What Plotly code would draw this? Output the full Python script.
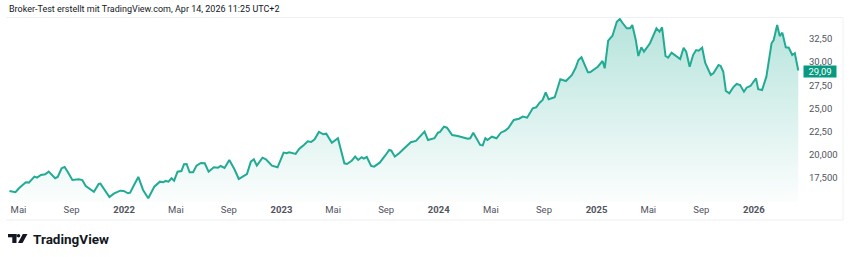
import plotly.graph_objects as go

# ---- data ----
dates = [
    "2021-04-10", "2021-04-24", "2021-05-02", "2021-05-18", "2021-05-25", "2021-06-07", "2021-06-13",
    "2021-06-22", "2021-07-02", "2021-07-10", "2021-07-25", "2021-07-31", "2021-08-09", "2021-08-16",
    "2021-08-23", "2021-09-03", "2021-09-18", "2021-09-26", "2021-10-04", "2021-10-15", "2021-10-23",
    "2021-11-03", "2021-11-07", "2021-11-28", "2021-12-08", "2021-12-23", "2021-12-31", "2022-01-10",
    "2022-01-15", "2022-01-25", "2022-02-03", "2022-02-14", "2022-02-26", "2022-03-12", "2022-03-25",
    "2022-04-02", "2022-04-07", "2022-04-14", "2022-04-21", "2022-04-27", "2022-05-05", "2022-05-14",
    "2022-05-20", "2022-05-26", "2022-06-02", "2022-06-10", "2022-06-18", "2022-06-28", "2022-07-07",
    "2022-07-16", "2022-07-28", "2022-08-07", "2022-08-13", "2022-08-22", "2022-09-02", "2022-09-14",
    "2022-09-24", "2022-10-03", "2022-10-13", "2022-10-22", "2022-10-29", "2022-11-05", "2022-11-18",
    "2022-11-26", "2022-12-10", "2022-12-23", "2023-01-06", "2023-01-13", "2023-01-19", "2023-02-03",
    "2023-02-11", "2023-02-22", "2023-03-03", "2023-03-11", "2023-03-19", "2023-03-29", "2023-04-08",
    "2023-04-15", "2023-04-28", "2023-05-12", "2023-05-27", "2023-06-02", "2023-06-13", "2023-06-21",
    "2023-06-28", "2023-07-06", "2023-07-11", "2023-07-18", "2023-07-28", "2023-08-04", "2023-08-17",
    "2023-08-29", "2023-09-08", "2023-09-13", "2023-09-21", "2023-10-01", "2023-10-22", "2023-10-28",
    "2023-11-09", "2023-11-29", "2023-12-07", "2023-12-22", "2023-12-30", "2024-01-04", "2024-01-13",
    "2024-01-20", "2024-02-01", "2024-02-14", "2024-03-08", "2024-03-14", "2024-03-21", "2024-03-29",
    "2024-04-06", "2024-04-12", "2024-04-18", "2024-04-23", "2024-05-03", "2024-05-14", "2024-05-24",
    "2024-06-03", "2024-06-10", "2024-06-23", "2024-07-05", "2024-07-14", "2024-07-24", "2024-08-06",
    "2024-08-14", "2024-08-22", "2024-08-29", "2024-09-05", "2024-09-12", "2024-09-26", "2024-10-09",
    "2024-10-22", "2024-10-31", "2024-11-05", "2024-11-13", "2024-11-20", "2024-11-27", "2024-12-12",
    "2024-12-17", "2024-12-27", "2025-01-04", "2025-01-15", "2025-01-20", "2025-01-28", "2025-02-07",
    "2025-02-17", "2025-02-24", "2025-03-02", "2025-03-12", "2025-03-20", "2025-03-25", "2025-04-02",
    "2025-04-08", "2025-04-15", "2025-04-21", "2025-05-05", "2025-05-20", "2025-05-27", "2025-06-02",
    "2025-06-10", "2025-06-16", "2025-06-24", "2025-07-07", "2025-07-14", "2025-07-22", "2025-07-28",
    "2025-08-05", "2025-08-13", "2025-08-20", "2025-08-26", "2025-09-03", "2025-09-10", "2025-09-23",
    "2025-09-29", "2025-10-11", "2025-10-16", "2025-10-22", "2025-10-28", "2025-11-05", "2025-11-14",
    "2025-11-22", "2025-11-30", "2025-12-09", "2025-12-15", "2025-12-24", "2026-01-06", "2026-01-11",
    "2026-01-20", "2026-01-30", "2026-02-11", "2026-02-16", "2026-02-24", "2026-03-02", "2026-03-08",
    "2026-03-16", "2026-03-23", "2026-03-31", "2026-04-06", "2026-04-14",
]
prices = [
    16.10, 15.96, 16.39, 17.04, 17.00, 17.64, 17.53,
    17.82, 17.90, 18.18, 17.47, 17.61, 18.55, 18.69,
    18.18, 17.28, 17.36, 17.28, 16.64, 16.31, 16.02,
    16.85, 16.89, 15.45, 15.81, 16.13, 16.10, 15.85,
    15.92, 16.82, 17.61, 16.21, 15.31, 16.56, 17.10,
    17.04, 17.18, 17.10, 17.47, 17.21, 18.18, 18.25,
    18.98, 19.01, 18.11, 18.11, 18.83, 19.12, 19.08,
    18.18, 18.65, 18.61, 18.79, 18.58, 19.44, 18.44,
    17.39, 17.64, 17.93, 19.26, 19.52, 18.83, 19.69,
    19.52, 18.83, 18.65, 20.23, 20.16, 20.27, 20.09,
    20.62, 21.06, 21.45, 21.38, 21.67, 22.46, 22.21,
    22.27, 21.30, 21.78, 19.08, 19.01, 19.36, 19.80,
    19.44, 19.73, 19.58, 19.76, 18.79, 18.72, 19.15,
    19.87, 20.52, 20.44, 19.80, 20.16, 21.06, 21.35,
    21.49, 22.49, 21.59, 21.78, 22.38, 22.46, 23.03,
    22.92, 22.13, 22.03, 21.73, 21.78, 22.38, 21.78,
    21.06, 21.02, 21.78, 21.59, 21.95, 21.78, 22.38,
    22.60, 22.86, 23.75, 23.89, 24.11, 24.00, 25.01,
    25.12, 25.61, 25.91, 26.73, 25.98, 26.20, 28.14,
    27.95, 28.42, 28.60, 29.32, 30.22, 30.51, 28.89,
    28.89, 29.21, 29.49, 30.11, 29.32, 32.30, 32.83,
    34.34, 34.63, 34.23, 33.63, 33.63, 33.99, 32.37,
    30.65, 31.58, 31.11, 32.02, 33.63, 33.27, 33.74,
    30.65, 30.46, 31.00, 30.57, 30.32, 31.54, 31.11,
    29.49, 30.75, 31.29, 31.22, 31.54, 29.92, 28.60,
    28.78, 29.68, 29.57, 28.95, 26.88, 26.63, 27.27,
    27.63, 27.52, 26.80, 27.23, 27.41, 28.24, 27.06,
    26.98, 28.42, 32.02, 32.37, 33.99, 32.80, 33.16,
    31.58, 31.54, 30.75, 30.94, 29.09,
]
x_tick_vals = ["2021-05-01", "2021-09-01", "2022-01-01", "2022-05-01", "2022-09-01", "2023-01-01",
               "2023-05-01", "2023-09-01", "2024-01-01", "2024-05-01", "2024-09-01", "2025-01-01",
               "2025-05-01", "2025-09-01", "2026-01-01"]
x_tick_text = ["Mai", "Sep", "2022", "Mai", "Sep", "2023", "Mai", "Sep", "2024",
               "Mai", "Sep", "2025", "Mai", "Sep", "2026"]
y_tick_vals = [32.5, 30.0, 27.5, 25.0, 22.5, 20.0, 17.5]
y_tick_text = ["32,50", "30,00", "27,50", "25,00", "22,50", "20,000", "17,500"]
last_label = "29,09"
header = "Broker-Test erstellt mit TradingView.com, Apr 14, 2026 11:25 UTC+2"

# ---- layout geometry (pixels) ----
W, H = 850, 257
L, R, T, B = 6, 800, 17, 202


def px(xp):
    return (xp - L) / (R - L)


def py(yp):
    return (B - yp) / (B - T)


LINE = "#22ab94"
FONT = "Roboto"
TICK_COLOR = "#50535e"

fig = go.Figure()
fig.add_trace(go.Scatter(
    x=dates, y=prices, mode="lines",
    line=dict(color=LINE, width=2),
    fill="tozeroy",
    fillgradient=dict(type="vertical", start=14.0, stop=34.6,
                      colorscale=[[0, "rgba(34,171,148,0.0)"], [1, "rgba(34,171,148,0.33)"]]),
    hoverinfo="skip", showlegend=False,
))

ticktext = [("<b>%s</b>" % t if t.isdigit() else t) for t in x_tick_text]

fig.update_layout(
    width=W, height=H,
    margin=dict(l=L, r=W - R, t=T, b=H - B),
    paper_bgcolor="white", plot_bgcolor="white",
    font=dict(family=FONT, size=10, color="#131722"),
    xaxis=dict(range=["2021-04-02", "2026-04-18"], tickvals=x_tick_vals, ticktext=ticktext,
               showgrid=False, zeroline=False, showline=False, ticks="",
               tickfont=dict(size=9.5, color=TICK_COLOR)),
    yaxis=dict(range=[14.91, 34.85], side="right", tickvals=y_tick_vals, ticktext=y_tick_text,
               showgrid=False, zeroline=False, showline=False, ticks="",
               ticklabelstandoff=8, tickfont=dict(size=9.5, color=TICK_COLOR)),
    shapes=[
        dict(type="line", xref="paper", yref="paper", x0=px(6), x1=px(843), y0=py(17.5), y1=py(17.5),
             line=dict(color="#eef0f3", width=1)),
        dict(type="line", xref="paper", yref="paper", x0=px(843), x1=px(843), y0=py(17.5), y1=py(220),
             line=dict(color="#eef0f3", width=1)),
        dict(type="line", xref="paper", yref="paper", x0=px(6), x1=px(843), y0=py(220), y1=py(220),
             line=dict(color="#eef0f3", width=1)),
        # TradingView logo mark
        dict(type="rect", xref="paper", yref="paper", x0=px(8), x1=px(16.5), y0=py(234), y1=py(237.3),
             fillcolor="#131722", line=dict(width=0)),
        dict(type="rect", xref="paper", yref="paper", x0=px(12.3), x1=px(16.5), y0=py(234), y1=py(243),
             fillcolor="#131722", line=dict(width=0)),
        dict(type="circle", xref="paper", yref="paper", x0=px(16.8), x1=px(20.3), y0=py(234), y1=py(237.5),
             fillcolor="#131722", line=dict(width=0)),
        dict(type="path", xref="paper", yref="paper",
             path="M %f %f L %f %f L %f %f L %f %f Z" % (px(22.8), py(234), px(27.5), py(234),
                                                           px(22.5), py(243), px(18), py(243)),
             fillcolor="#131722", line=dict(width=0)),
    ],
    annotations=[
        dict(text=header, xref="paper", yref="paper", x=px(7), y=py(9), xanchor="left", yanchor="middle",
             showarrow=False, font=dict(family=FONT, size=9, color="#131722")),
        dict(text="<b>TradingView</b>", xref="paper", yref="paper", x=px(31), y=py(238.5),
             xanchor="left", yanchor="middle", showarrow=False,
             font=dict(family=FONT, size=13.5, color="#131722")),
        dict(text=last_label, xref="paper", yref="y", x=px(803), y=29.0, xanchor="left",
             yanchor="middle", showarrow=False, bgcolor="#089981", borderpad=0, width=32,
             font=dict(family=FONT, size=9.5, color="white")),
    ],
)

fig.write_html("out.html")
